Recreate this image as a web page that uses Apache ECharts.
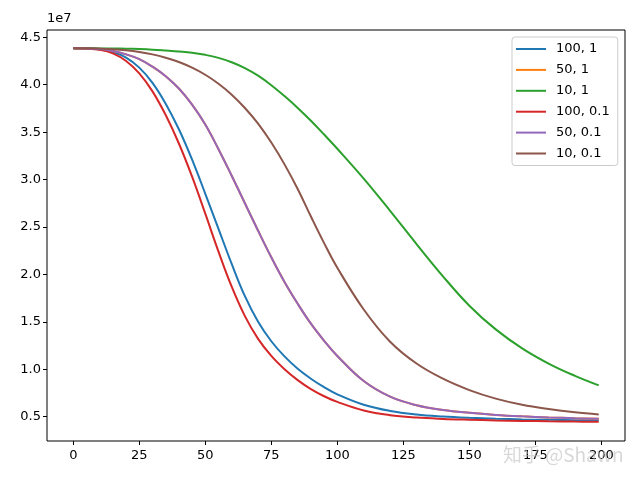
<!DOCTYPE html>
<html>
<head>
<meta charset="utf-8">
<script src="https://cdn.jsdelivr.net/npm/echarts@6/dist/echarts.min.js"></script>
<style>
  html, body { margin: 0; padding: 0; background: #fff; }
  #chart { width: 640px; height: 480px; }
</style>
</head>
<body>
<div id="chart"></div>
<script>
var xs = [0, 5, 10, 15, 20, 25, 30, 35, 40, 45, 50, 55, 60, 65, 70, 75, 80, 85, 90, 95, 100,
          110, 120, 130, 140, 150, 160, 170, 180, 190, 199];

// values in units of 1e7
var blueVals = [4.384, 4.382, 4.372, 4.345, 4.285, 4.18, 4.02, 3.80, 3.53, 3.21, 2.85, 2.48, 2.11, 1.77, 1.50, 1.295, 1.135, 1.005, 0.90, 0.81, 0.735,
                0.625, 0.56, 0.523, 0.502, 0.488, 0.478, 0.471, 0.466, 0.462, 0.459];
var orangeVals = [4.384, 4.383, 4.376, 4.355, 4.32, 4.27, 4.19, 4.09, 3.96, 3.79, 3.58, 3.32, 3.04, 2.75, 2.46, 2.18, 1.92, 1.69, 1.48, 1.30, 1.14,
                  0.875, 0.71, 0.62, 0.57, 0.54, 0.518, 0.503, 0.492, 0.483, 0.477];
var greenVals = [4.384, 4.384, 4.383, 4.382, 4.38, 4.376, 4.37, 4.361, 4.351, 4.338, 4.315, 4.283, 4.237, 4.175, 4.095, 3.995, 3.88, 3.755, 3.62, 3.475, 3.325,
                 3.01, 2.67, 2.32, 1.98, 1.67, 1.42, 1.22, 1.06, 0.93, 0.83];
var redVals = [4.384, 4.381, 4.368, 4.33, 4.25, 4.12, 3.93, 3.68, 3.38, 3.03, 2.64, 2.24, 1.87, 1.56, 1.32, 1.14, 1.00, 0.885, 0.79, 0.715, 0.655,
               0.565, 0.515, 0.49, 0.476, 0.467, 0.46, 0.455, 0.451, 0.448, 0.446];
var purpleVals = [4.384, 4.383, 4.376, 4.355, 4.32, 4.27, 4.19, 4.09, 3.96, 3.79, 3.58, 3.32, 3.04, 2.75, 2.46, 2.18, 1.92, 1.69, 1.48, 1.30, 1.14,
                  0.875, 0.71, 0.62, 0.57, 0.54, 0.518, 0.503, 0.492, 0.483, 0.477];
var brownVals = [4.384, 4.384, 4.381, 4.375, 4.363, 4.345, 4.32, 4.285, 4.24, 4.18, 4.105, 4.01, 3.895, 3.755, 3.59, 3.39, 3.16, 2.90, 2.61, 2.33, 2.07,
                 1.63, 1.29, 1.06, 0.90, 0.78, 0.69, 0.625, 0.58, 0.545, 0.522];

var seriesNames = ['100, 1', '50, 1', '10, 1', '100, 0.1', '50, 0.1', '10, 0.1'];
var seriesVals = [blueVals, orangeVals, greenVals, redVals, purpleVals, brownVals];
var colors = ['#1f77b4', '#ff7f0e', '#2ca02c', '#d62728', '#9467bd', '#8c564b'];

var xTicks = [0, 25, 50, 75, 100, 125, 150, 175, 200];
var yTicks = [0.5, 1.0, 1.5, 2.0, 2.5, 3.0, 3.5, 4.0, 4.5];

var FONT = 'DejaVu Sans';

function pairs(vals) {
	var out = [];
	for (var i = 0; i < xs.length; i++) out.push([xs[i], vals[i]]);
	return out;
}

var series = [];
for (var i = 0; i < seriesNames.length; i++) {
	series.push({
		name: seriesNames[i],
		type: 'line',
		data: pairs(seriesVals[i]),
		smooth: 0.4,
		symbol: 'none',
		lineStyle: { width: 2, color: colors[i] },
		itemStyle: { color: colors[i] },
		z: 2 + i,
		animation: false
	});
}

var chart = echarts.init(document.getElementById('chart'), null, { renderer: 'canvas' });
chart.setOption({
	animation: false,
	backgroundColor: '#fff',
	grid: { left: 47, right: 15, top: 30, bottom: 39, show: true, borderColor: '#000', borderWidth: 1, backgroundColor: 'transparent' },
	xAxis: {
		type: 'value', min: -9.95, max: 208.95,
		axisLine: { show: false, onZero: false },
		splitLine: { show: false },
		axisTick: { show: true, length: 4, lineStyle: { color: '#000' }, customValues: xTicks },
		axisLabel: { customValues: xTicks, color: '#000', fontFamily: FONT, fontSize: 13, margin: 8 }
	},
	yAxis: {
		type: 'value', min: 0.243, max: 4.577,
		axisLine: { show: false, onZero: false },
		splitLine: { show: false },
		axisTick: { show: true, length: 4, lineStyle: { color: '#000' }, customValues: yTicks },
		axisLabel: {
			customValues: yTicks, color: '#000', fontFamily: FONT, fontSize: 13, margin: 6,
			formatter: function(v) { return v.toFixed(1); }
		}
	},
	legend: {
		orient: 'vertical', left: 512, top: 37,
		data: seriesNames,
		icon: 'rect',
		itemWidth: 30, itemHeight: 2, itemGap: 6.9,
		padding: [5, 8, 5, 4],
		borderColor: '#cccccc', borderWidth: 1, borderRadius: 3,
		backgroundColor: 'rgba(255,255,255,0.8)',
		textStyle: { color: '#000', fontFamily: FONT, fontSize: 13, lineHeight: 14, padding: [0, 0, 0, 5] }
	},
	graphic: [
		{ type: 'text', left: 47, top: 12, style: { text: '1e7', font: '13px "DejaVu Sans"', fill: '#000' } },
		{ type: 'text', left: 503, top: 445, z: 100, style: { text: '知乎 @Shawn', font: '19px "Noto Sans CJK SC"', fill: 'rgba(190,190,190,0.6)' } }
	],
	series: series
});
</script>
</body>
</html>
